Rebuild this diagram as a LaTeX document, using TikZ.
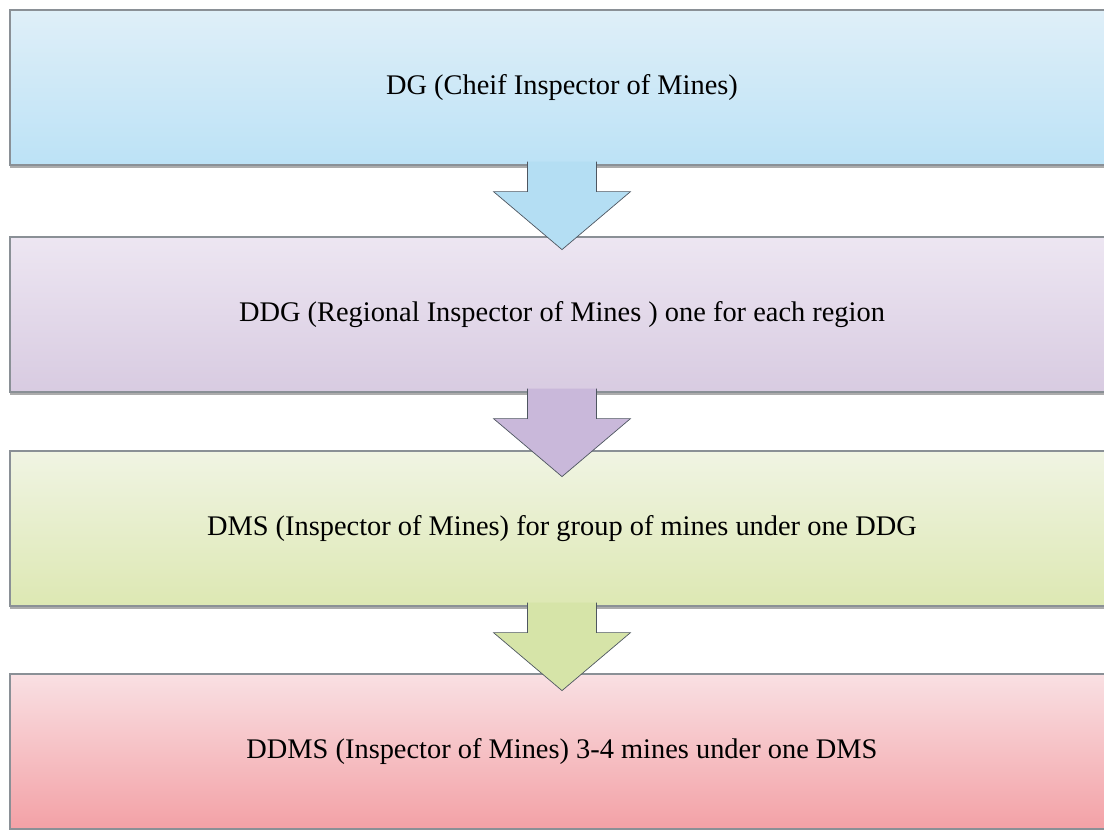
\documentclass[tikz,border=0pt]{standalone}
\usepackage{fontspec}
\setmainfont{Liberation Serif}
\usepackage{tikz}
\usetikzlibrary{calc, shadows}

\definecolor{dgtop}{HTML}{DFEFF8}
\definecolor{dgbot}{HTML}{BCE2F6}
\definecolor{ddgtop}{HTML}{EDE6F2}
\definecolor{ddgbot}{HTML}{D8CBE1}
\definecolor{dmstop}{HTML}{F0F4E3}
\definecolor{dmsbot}{HTML}{DDE8B3}
\definecolor{ddmstop}{HTML}{F9E0E3}
\definecolor{ddmsbot}{HTML}{F3A1A6}
\definecolor{boxedge}{HTML}{8A9096}
\definecolor{arrowedge}{HTML}{4E5660}
\definecolor{dgarrow}{HTML}{B4DEF3}
\definecolor{ddgarrow}{HTML}{C9B8DA}
\definecolor{dmsarrow}{HTML}{D6E4A8}

\tikzset{
    tier/.style={draw=boxedge, line width=1.2, minimum width=1104, minimum height=155,
        inner sep=0, font=\fontsize{28.4}{32}\selectfont,
        drop shadow={shadow xshift=0pt, shadow yshift=-2.5pt, opacity=0.5, fill=black!65}},
}

% block arrow hanging below a tier box
\newcommand{\tierarrow}[2]{%
    \draw[fill=#2, draw=arrowedge, line width=0.7]
        ($(#1.south)+(-34.5,-4)$) -- ($(#1.south)+(-34.5,26)$)
        -- ($(#1.south)+(-68.5,26)$) -- ($(#1.south)+(0,84)$)
        -- ($(#1.south)+(68.5,26)$) -- ($(#1.south)+(34.5,26)$)
        -- ($(#1.south)+(34.5,-4)$);
    \fill[#2] ($(#1.south)+(-34,-4)$) rectangle ($(#1.south)+(34,25)$);
}

\begin{document}
\begin{tikzpicture}[x=1pt, y=-1pt]
\useasboundingbox (0,0) rectangle (1104,830);

% tiers
\node[tier, top color=dgtop, bottom color=dgbot] (dg) at (562, 87.5)
    {\raisebox{-3pt}{DG (Cheif Inspector of Mines)}};
\node[tier, top color=ddgtop, bottom color=ddgbot] (ddg) at (562, 314.5)
    {\raisebox{-3pt}{DDG (Regional Inspector of Mines ) one for each region}};
\node[tier, top color=dmstop, bottom color=dmsbot] (dms) at (562, 528.5)
    {\raisebox{-3pt}{DMS (Inspector of Mines) for group of mines under one DDG}};
\node[tier, top color=ddmstop, bottom color=ddmsbot] (ddms) at (562, 751.5)
    {\raisebox{-3pt}{DDMS (Inspector of Mines) 3-4 mines under one DMS}};

% arrows between tiers
\tierarrow{dg}{dgarrow}
\tierarrow{ddg}{ddgarrow}
\tierarrow{dms}{dmsarrow}
\end{tikzpicture}
\end{document}
